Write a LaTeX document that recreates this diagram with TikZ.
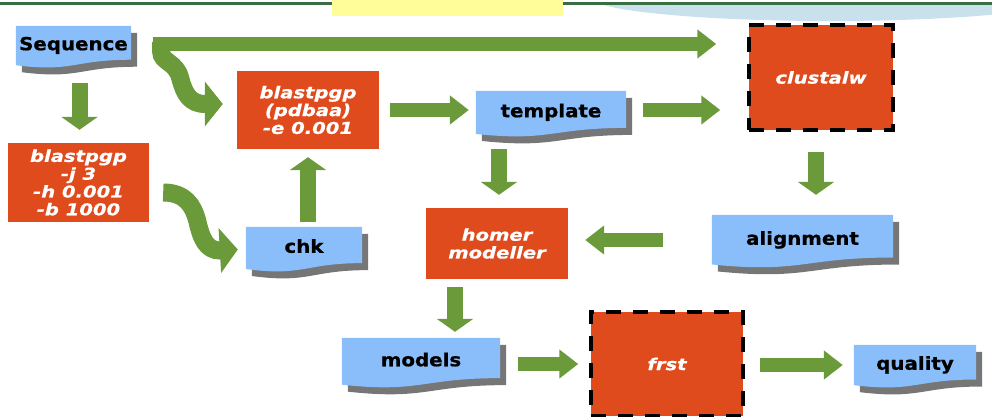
\documentclass[tikz,border=0pt]{standalone}
\usepackage{fontspec}
\newfontfamily\labelfont{DejaVu Sans Bold}[FakeStretch=1.1, FakeBold=0.8]
\newfontfamily\toolfont{DejaVu Sans Bold Oblique}[FakeStretch=1.2, FakeBold=0.6]
\usetikzlibrary{arrows.meta,calc,backgrounds}

\definecolor{toolred}{RGB}{224,75,30}
\definecolor{docblue}{RGB}{138,190,250}
\definecolor{flowgreen}{RGB}{106,154,58}
\definecolor{shadegray}{RGB}{118,118,118}
\definecolor{rulegreen}{RGB}{56,110,66}
\definecolor{tabyellow}{RGB}{255,253,153}
\definecolor{haloblue}{RGB}{200,225,236}

% document outline with a wavy bottom, drawn from a node's corners
\newcommand\docoutline[2]{%
  \path[#2] let \p1=(#1.north west), \p2=(#1.south east) in
    (\x1,\y1) -- (\x2,\y1) -- (\x2,{0.2*\y1+0.8*\y2})
    .. controls ({0.5*\x1+0.5*\x2},{0.2*\y1+0.8*\y2})
            and ({0.5*\x1+0.5*\x2},{-0.1*\y1+1.1*\y2})
    .. (\x1,{0.07*\y1+0.93*\y2}) -- cycle;}

\begin{document}
\begin{tikzpicture}[x=1pt,y=-1pt,
  docnode/.style={font={\labelfont\fontsize{18}{20}\selectfont},
    inner sep=0pt, text height=12.5pt, text depth=6pt},
  toolnode/.style={fill=toolred, text=white, align=center, inner sep=0pt,
    font={\toolfont\fontsize{16.3}{17.8}\selectfont}},
  dashbox/.style={draw=black, line width=3.5pt, dash pattern=on 15pt off 12pt},
  harrow/.style={draw=flowgreen, line width=14pt, -{Triangle[length=19pt,width=28pt]}},
  varrow/.style={draw=flowgreen, line width=16pt, -{Triangle[length=13pt,width=36pt]}},
  bendarrow/.style={draw=flowgreen, line width=18pt, -{Triangle[length=18pt,width=44pt]}}]
\useasboundingbox (0,0) rectangle (992,417);

% header strip
\begin{scope}
  \clip (0,4) rectangle (992,40);
  \fill[haloblue] (830,-3) ellipse [x radius=240pt, y radius=24pt];
\end{scope}
\draw[rulegreen, line width=3pt] (0,4) -- (992,4);
\fill[tabyellow] (332,0) rectangle (563,16);

% files and programs
\node[docnode, minimum width=115pt, minimum height=42pt] (seq) at (73.5,47) {Sequence};
\node[toolnode, minimum width=141pt, minimum height=79pt] (blastA) at (78.5,182.5) {blastpgp\\-j 3\\-h 0.001\\-b 1000};
\node[toolnode, minimum width=142pt, minimum height=78pt] (blastB) at (308,110) {blastpgp\\(pdbaa)\\-e 0.001};
\node[docnode, minimum width=150pt, minimum height=46pt] (template) at (551,114) {template};
\node[toolnode, dashbox, minimum width=144pt, minimum height=105pt] (clustalw) at (821,77.5) {clustalw};
\node[docnode, minimum width=116pt, minimum height=45pt] (chk) at (304,249.5) {chk};
\node[toolnode, minimum width=142pt, minimum height=71pt] (homer) at (497,243.5) {homer\\modeller};
\node[docnode, minimum width=181pt, minimum height=53pt] (align) at (802.5,241.5) {alignment};
\node[docnode, minimum width=158pt, minimum height=50pt] (models) at (421,363) {models};
\node[toolnode, dashbox, minimum width=152pt, minimum height=104pt] (frst) at (667,364) {frst};
\node[docnode, minimum width=122pt, minimum height=43pt] (quality) at (915,366.5) {quality};

\begin{scope}[on background layer]
  \foreach \d in {seq,template,chk,align,models,quality}{
    \begin{scope}[transform canvas={xshift=6pt,yshift=-7pt}]
      \docoutline{\d}{fill=shadegray}
    \end{scope}
    \docoutline{\d}{fill=docblue}
  }
\end{scope}

% flow
\draw[harrow] ($(seq.east)+(22,-3)$) -- ($(seq.east -| clustalw.west)+(-31,-3)$);
\draw[varrow] ($(seq.south -| blastA.north)+(1,15)$) -- ($(blastA.north)+(1,-13)$);
\draw[bendarrow] ($(seq.east)+(30,-5)$) -- ++(0,10)
  .. controls +(0,10) and +(-4,-16) .. ++(19,26)
  .. controls +(4,16) and +(-15,0) .. ++(25,26) -- ($(blastB.west)+(-14,-6)$);
\draw[bendarrow] ($(blastA.east)+(14,10)$)
  .. controls +(22,0) and +(-4,-15) .. ++(34,28)
  .. controls +(4,18) and +(-14,0) .. ++(23,30) -- ($(chk.west)+(-8,0)$);
\draw[varrow] ($(blastB.south |- chk.north)+(0,-5)$) -- ($(blastB.south)+(0,8)$);
\draw[harrow] ($(blastB.east)+(11,0)$) -- ($(blastB.east -| template.west)+(-7,0)$);
\draw[harrow] ($(template.east)+(17,-4)$) -- ($(template.east -| clustalw.west)+(-27,-4)$);
\draw[varrow] ($(homer.north |- template.south)+(2,12)$) -- ($(homer.north)+(2,-13)$);
\draw[varrow] ($(clustalw.south)+(-5,20)$) -- ($(clustalw.south |- align.north)+(-5,-20)$);
\draw[harrow] ($(align.west)+(-49,-1.5)$) -- ($(homer.east |- align.west)+(17,-1.5)$);
\draw[varrow] ($(homer.south)+(-42,8)$) -- ($(models.north -| homer.south)+(-42,-6)$);
\draw[harrow] ($(models.east)+(18,1)$) -- ($(frst.west)+(-11,0)$);
\draw[harrow] ($(frst.east)+(15,1)$) -- ($(frst.east -| quality.west)+(-11,1)$);
\end{tikzpicture}
\end{document}
